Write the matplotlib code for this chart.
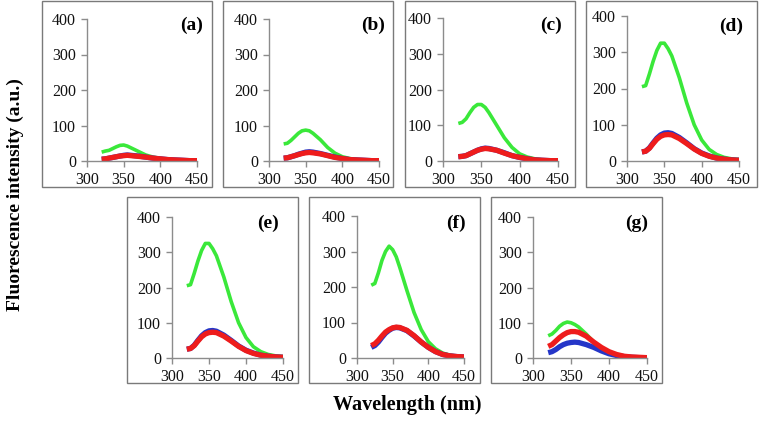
import matplotlib
matplotlib.use("Agg")
import matplotlib.pyplot as plt
from matplotlib.patches import Rectangle

W, H = 762, 422

# emission wavelength grid (nm)
wavelength = [320, 325, 330, 335, 340, 345, 350, 355, 360, 370, 380, 390, 400, 410, 420, 430, 440, 450]

panels = ["a", "b", "c", "d", "e", "f", "g"]

green = {
    "a": [25, 28, 30, 35, 40, 44, 45, 42, 37, 27, 17, 11, 7, 5, 3, 2, 1, 1],
    "b": [48, 50, 58, 68, 78, 85, 87, 85, 78, 60, 38, 22, 12, 7, 4, 2, 1, 1],
    "c": [105, 108, 118, 135, 150, 158, 158, 150, 135, 100, 65, 38, 20, 11, 6, 3, 2, 1],
    "d": [205, 208, 240, 275, 305, 325, 325, 310, 290, 230, 160, 100, 58, 32, 18, 10, 6, 4],
    "e": [205, 208, 240, 275, 305, 325, 325, 310, 290, 230, 160, 100, 58, 32, 18, 10, 6, 4],
    "f": [205, 210, 240, 275, 300, 315, 305, 285, 255, 190, 128, 80, 46, 26, 14, 8, 5, 3],
    "g": [63, 68, 78, 90, 98, 102, 100, 95, 88, 68, 45, 28, 15, 8, 4, 2, 1, 1],
}
blue = {
    "a": [5, 6, 8, 10, 12, 14, 16, 17, 16, 14, 11, 8, 6, 4, 3, 2, 1, 1],
    "b": [8, 9, 12, 15, 19, 22, 25, 26, 25, 21, 16, 11, 7, 4, 3, 2, 1, 1],
    "c": [12, 13, 15, 20, 25, 30, 34, 36, 35, 30, 23, 15, 10, 6, 3, 2, 1, 1],
    "d": [25, 27, 36, 50, 63, 72, 77, 78, 76, 65, 50, 34, 22, 14, 8, 5, 3, 2],
    "e": [25, 27, 36, 50, 63, 72, 77, 78, 76, 65, 50, 34, 22, 14, 8, 5, 3, 2],
    "f": [30, 35, 45, 58, 70, 78, 84, 86, 85, 77, 62, 45, 30, 18, 10, 6, 4, 3],
    "g": [15, 18, 24, 32, 38, 42, 44, 45, 44, 38, 30, 20, 12, 7, 4, 2, 1, 1],
}
red = {
    "a": [5, 6, 8, 10, 12, 14, 15, 16, 15, 13, 11, 8, 6, 4, 3, 2, 1, 1],
    "b": [8, 9, 12, 15, 18, 21, 23, 24, 23, 20, 15, 10, 7, 4, 3, 2, 1, 1],
    "c": [12, 13, 15, 20, 25, 30, 33, 35, 34, 30, 22, 15, 10, 6, 3, 2, 1, 1],
    "d": [25, 27, 35, 48, 60, 68, 72, 73, 72, 62, 48, 33, 21, 13, 8, 5, 3, 2],
    "e": [25, 27, 35, 48, 60, 68, 72, 73, 72, 62, 48, 33, 21, 13, 8, 5, 3, 2],
    "f": [35, 40, 50, 62, 73, 80, 85, 87, 86, 78, 63, 45, 30, 18, 10, 6, 4, 3],
    "g": [33, 38, 48, 58, 66, 72, 75, 75, 73, 62, 45, 30, 18, 10, 5, 3, 2, 1],
}

x_ticks = [300, 350, 400, 450]
y_ticks = [0, 100, 200, 300, 400]

# layout in pixels: frame (x0, x1, y0, y1), axes (left, right, top, bottom), label (right, ycenter)
frames = {
    "a": (42, 212, 1, 187), "b": (223, 393, 1, 187), "c": (405, 575, 1, 187),
    "d": (586, 757, 1, 187), "e": (127, 298, 197, 383), "f": (309, 480, 197, 383),
    "g": (491, 662, 197, 383),
}
axes_px = {
    "a": (87, 197, 19, 161), "b": (269, 379, 19, 161), "c": (443, 558, 18, 161),
    "d": (627, 739, 16, 161), "e": (172, 283, 217, 358), "f": (357, 464, 216, 358),
    "g": (533, 647, 217, 358),
}
label_px = {
    "a": (203, 25), "b": (385, 25), "c": (562, 25), "d": (743, 26),
    "e": (279, 223), "f": (466, 223), "g": (648, 223),
}

SERIF = ["Liberation Serif", "DejaVu Serif"]
plt.rcParams["font.family"] = SERIF
AXIS_GRAY = "#8c8c8c"

fig = plt.figure(figsize=(W / 100, H / 100), dpi=100)

for p in panels:
    fx0, fx1, fy0, fy1 = frames[p]
    fig.patches.append(Rectangle((fx0 / W, 1 - fy1 / H), (fx1 - fx0) / W, (fy1 - fy0) / H,
                                 transform=fig.transFigure, fill=False,
                                 edgecolor="#7a7a7a", linewidth=1.0))
    l, r, t, b = axes_px[p]
    ax = fig.add_axes([l / W, 1 - b / H, (r - l) / W, (b - t) / H])
    ax.plot(wavelength, green[p], color="#3ae83a", lw=2.6, solid_capstyle="butt")
    ax.plot(wavelength, blue[p], color="#2536c8", lw=3.8, solid_capstyle="butt")
    ax.plot(wavelength, red[p], color="#ee1c1c", lw=3.8, solid_capstyle="butt")
    ax.set_xlim(300, 450)
    ax.set_ylim(0, 400)
    ax.set_xticks(x_ticks)
    ax.set_yticks(y_ticks)
    for s in ("top", "right"):
        ax.spines[s].set_visible(False)
    for s in ("left", "bottom"):
        ax.spines[s].set_color(AXIS_GRAY)
        ax.spines[s].set_linewidth(1.0)
    ax.tick_params(colors=AXIS_GRAY, labelcolor="#111111", labelsize=11.5,
                   length=4, width=1.0, pad=4)
    ax.patch.set_alpha(0)
    lx, ly = label_px[p]
    fig.text(lx / W, 1 - ly / H, f"({p})", ha="right", va="center",
             fontsize=14, fontweight="bold")

fig.text(15 / W, 1 - 195 / H, "Fluorescence intensity (a.u.)", rotation=90,
         ha="center", va="center", fontsize=14, fontweight="bold")
fig.text(407 / W, 1 - 405 / H, "Wavelength (nm)", ha="center", va="center",
         fontsize=14.5, fontweight="bold")

fig.savefig("out.png", dpi=100)
